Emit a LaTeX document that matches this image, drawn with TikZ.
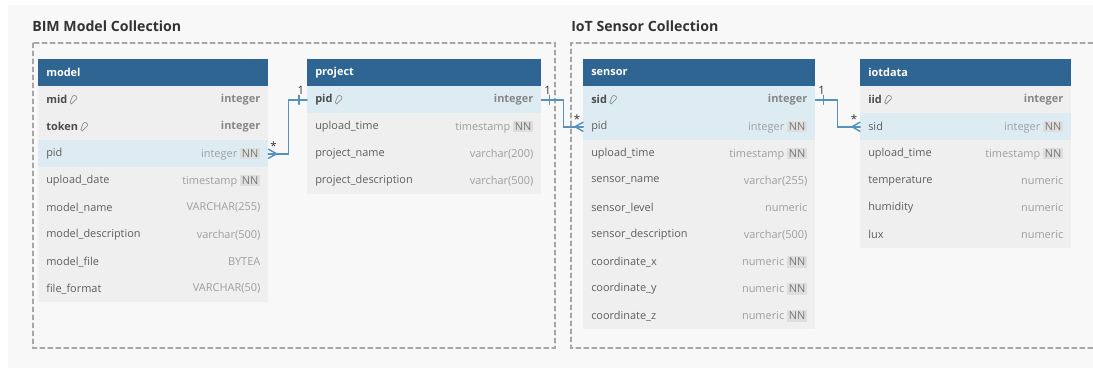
\documentclass[tikz,border=0pt]{standalone}
\usepackage{fontspec}
\setmainfont{Open Sans}
\usetikzlibrary{positioning}
\definecolor{pagebg}{HTML}{F8F8F8}
\definecolor{hdrblue}{HTML}{2F6593}
\definecolor{rowbg}{HTML}{EFEFEF}
\definecolor{hlbg}{HTML}{DDECF3}
\definecolor{linkblue}{HTML}{5792BF}
\definecolor{namegray}{HTML}{5E5E5E}
\definecolor{keygray}{HTML}{4C4C4C}
\definecolor{typegray}{HTML}{9E9E9E}
\definecolor{nnbg}{HTML}{DEDEDE}
\definecolor{groupline}{HTML}{A8A8A8}

% badge for not-null columns
\newcommand{\NN}{{\setlength{\fboxsep}{1.4pt}\colorbox{nnbg}{\color{typegray!75!black}NN}}}

\tikzset{
  hdr/.style={rectangle, inner sep=0, minimum height=20.25pt, anchor=north west, fill=hdrblue},
  hdrtext/.style={anchor=west, inner sep=0, text=white, font=\fontsize{8.2}{10}\selectfont\bfseries},
  row/.style={rectangle, inner sep=0, minimum height=20.25pt, anchor=north west, fill=rowbg},
  rowhl/.style={row, fill=hlbg},
  fldname/.style={anchor=west, inner sep=0, text=namegray},
  keyname/.style={fldname, text=keygray, font=\fontsize{8.2}{10}\selectfont\bfseries},
  fldtype/.style={anchor=east, inner sep=0, text=typegray},
  keytype/.style={fldtype, text=typegray!85!black, font=\fontsize{8.2}{10}\selectfont\bfseries},
  grouptitle/.style={anchor=west, inner sep=0, text=black!80, font=\fontsize{10.6}{12}\selectfont\bfseries},
  groupbox/.style={draw=groupline, line width=0.8pt, dash pattern=on 3.6pt off 2.4pt},
  link/.style={draw=linkblue, line width=1.4pt},
  mult/.style={inner sep=0, text=black!80, font=\fontsize{8.6}{10}\selectfont},
  keyicon/.pic={
    \draw[typegray!90!black, line width=0.55pt, rotate=45]
      (-3.6pt,-0.75pt) -- (0.4pt,-0.75pt) arc[start angle=-115, end angle=115, radius=1.8pt]
      -- (-3.6pt,0.75pt) -- cycle;
  },
  crowfoot/.pic={\draw[link, line width=1.1pt] (0,-4.5) -- (8,0) -- (0,4.5) (0,0) -- (8,0);},
  onetick/.pic={\draw[link, line width=1.1pt] (-8,-4.5) -- (-8,4.5);}
}

% table: id, left x, width, columns name/type/rowstyle/iskey
\newcommand{\erdtable}[4]{%
  \node[hdr, minimum width=#3*0.75pt] (#1) at (#2,59) {};
  \node[hdrtext] (#1-title) at ([xshift=6pt]#1.west) {#1};
  \foreach \f/\t/\r/\k [count=\i from 0] in {#4}{
    \node[\r, minimum width=#3*0.75pt] (#1-\f) at (#2,{86+27*\i}) {};
    \ifnum\k=1
      \node[keyname] (#1-\f-n) at ([xshift=6pt]#1-\f.west) {\f};
      \pic at ([xshift=5pt]#1-\f-n.east) {keyicon};
      \node[keytype] (#1-\f-t) at ([xshift=-6pt]#1-\f.east) {\t};
    \else
      \node[fldname] (#1-\f-n) at ([xshift=6pt]#1-\f.west) {\f};
      \node[fldtype] (#1-\f-t) at ([xshift=-6pt]#1-\f.east) {\t};
    \fi
  }
}

\begin{document}
\catcode`\_=12
\begin{tikzpicture}[x=0.75pt, y=-0.75pt, font=\fontsize{8.2}{10}\selectfont, line cap=round]
\useasboundingbox (0,0) rectangle (1093,368);
\fill[white] (0,0) rectangle (1093,368);
\fill[pagebg] (8,5) rectangle (1093,368);

%% groups
\node[grouptitle] (bim) at (32,26) {BIM Model Collection};
\node[grouptitle] (iot) at (571,26) {IoT Sensor Collection};
\draw[groupbox] (33,43) rectangle (555,348);
\draw[groupbox] (1093,43) -| (571,348) -- (1093,348);

%% tables
\erdtable{model}{38}{230}{mid/integer/row/1,token/integer/row/1,pid/integer \NN/rowhl/0,upload_date/timestamp \NN/row/0,model_name/VARCHAR(255)/row/0,model_description/varchar(500)/row/0,model_file/BYTEA/row/0,file_format/VARCHAR(50)/row/0}
\erdtable{project}{307}{234}{pid/integer/rowhl/1,upload_time/timestamp \NN/row/0,project_name/varchar(200)/row/0,project_description/varchar(500)/row/0}
\erdtable{sensor}{583}{232}{sid/integer/rowhl/1,pid/integer \NN/rowhl/0,upload_time/timestamp \NN/row/0,sensor_name/varchar(255)/row/0,sensor_level/numeric/row/0,sensor_description/varchar(500)/row/0,coordinate_x/numeric \NN/row/0,coordinate_y/numeric \NN/row/0,coordinate_z/numeric \NN/row/0}
\erdtable{iotdata}{860}{211}{iid/integer/row/1,sid/integer \NN/rowhl/0,upload_time/timestamp \NN/row/0,temperature/numeric/row/0,humidity/numeric/row/0,lux/numeric/row/0}

%% references
\draw[link] (model-pid.east) -- ++(20,0) |- (project-pid.west);
\pic at (model-pid.east) {crowfoot};
\pic at (project-pid.west) {onetick};
\node[mult] (mp-many) at ([shift={(5,-8)}]model-pid.east) {*};
\node[mult] (mp-one) at ([shift={(-6,-9)}]project-pid.west) {1};

\draw[link] (project-pid.east) -- ++(22,0) |- (sensor-pid.west);
\pic[xscale=-1] at (project-pid.east) {onetick};
\pic[xscale=-1] at (sensor-pid.west) {crowfoot};
\node[mult] (ps-one) at ([shift={(6,-9)}]project-pid.east) {1};
\node[mult] (ps-many) at ([shift={(-6,-8)}]sensor-pid.west) {*};

\draw[link] (sensor-sid.east) -- ++(22,0) |- (iotdata-sid.west);
\pic[xscale=-1] at (sensor-sid.east) {onetick};
\pic[xscale=-1] at (iotdata-sid.west) {crowfoot};
\node[mult] (si-one) at ([shift={(6,-9)}]sensor-sid.east) {1};
\node[mult] (si-many) at ([shift={(-6,-8)}]iotdata-sid.west) {*};
\end{tikzpicture}
\end{document}
